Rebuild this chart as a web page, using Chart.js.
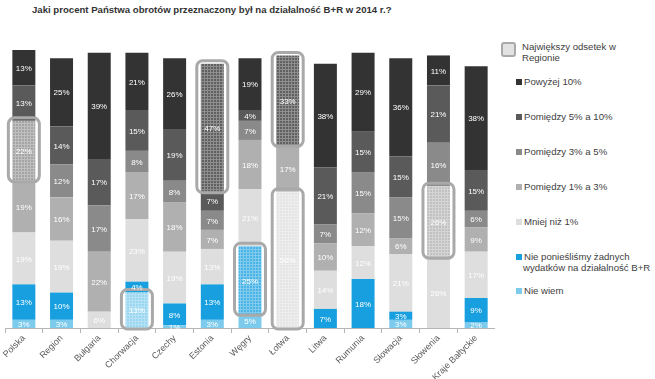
<!DOCTYPE html>
<html>
<head>
<meta charset="utf-8">
<script src="https://cdn.jsdelivr.net/npm/chart.js@4"></script>
<style>
  body { margin: 0; background: #fff; font-family: "Liberation Sans", Arial, sans-serif; }
  #wrap { position: absolute; left: 0; top: 0; width: 495px; height: 379px; }
  #title { position: absolute; left: 32px; top: 4px; font-size: 9.6px; font-weight: bold; color: #333; white-space: nowrap; }
  #legend { position: absolute; left: 500px; top: 0; width: 155px; font-size: 9.6px; color: #404040; }
  .item { position: absolute; left: 16px; line-height: 11px; white-space: nowrap; }
  .sq { display: inline-block; width: 6px; height: 6px; margin-right: 2px; vertical-align: 0px; }
  .hl { position: absolute; left: 1px; top: 42px; width: 11px; height: 11px; border: 2px solid #aaa; border-radius: 3px; background: #e2e2e2; }
</style>
</head>
<body>
<div id="title">Jaki procent Państwa obrotów przeznaczony był na działalność B+R w 2014 r.?</div>
<div id="wrap"><canvas id="chart"></canvas></div>
<div id="legend"></div>
<script>
var categories = ['Polska', 'Region', 'Bułgaria', 'Chorwacja', 'Czechy', 'Estonia', 'Węgry', 'Łotwa', 'Litwa', 'Rumunia', 'Słowacja', 'Słowenia', 'Kraje Bałtyckie'];

// od dołu do góry słupka
var nieWiem     = [3, 3, 0, 13, 1, 3, 5, 0, 0, 0, 3, 0, 2];
var niePoniesli = [13, 10, 0, 4, 8, 13, 25, 0, 7, 18, 3, 0, 9];
var mniejNiz1   = [19, 19, 6, 23, 19, 13, 21, 50, 14, 12, 21, 26, 17];
var od1do3      = [19, 16, 22, 17, 18, 7, 18, 17, 10, 12, 6, 26, 9];
var od3do5      = [22, 12, 17, 8, 8, 7, 7, 0, 7, 15, 15, 16, 6];
var od5do10     = [13, 14, 17, 15, 19, 7, 4, 0, 21, 15, 15, 21, 15];
var powyzej10   = [13, 25, 39, 21, 26, 47, 19, 33, 38, 29, 36, 11, 38];

var seriesNames = ['Nie wiem', 'Nie ponieśliśmy żadnych wydatków na działalność B+R', 'Mniej niż 1%', 'Pomiędzy 1% a 3%', 'Pomiędzy 3% a 5%', 'Pomiędzy 5% a 10%', 'Powyżej 10%'];
var seriesData = [nieWiem, niePoniesli, mniejNiz1, od1do3, od3do5, od5do10, powyzej10];
var colors = ['#7ccbec', '#179fdf', '#dedede', '#b0b0b0', '#8a8a8a', '#5a5a5a', '#333333'];

// największy odsetek w regionie: [seria, kategoria]
var highlights = [[4, 0], [0, 3], [6, 5], [1, 6], [6, 7], [2, 7], [3, 11]];

function mix(hex, t) {
  var n = parseInt(hex.slice(1), 16);
  var r = (n >> 16) & 255, g = (n >> 8) & 255, b = n & 255;
  r = Math.round(r + (255 - r) * t); g = Math.round(g + (255 - g) * t); b = Math.round(b + (255 - b) * t);
  return 'rgb(' + r + ',' + g + ',' + b + ')';
}

function makePattern(hex) {
  var c = document.createElement('canvas');
  c.width = 3; c.height = 3;
  var x = c.getContext('2d');
  x.fillStyle = mix(hex, 0.22);
  x.fillRect(0, 0, 3, 3);
  x.fillStyle = mix(hex, 0.45);
  x.fillRect(0, 0, 3, 1);
  x.fillRect(0, 0, 1, 3);
  return x.createPattern(c, 'repeat');
}

function isHighlight(ds, idx) {
  return highlights.some(function (h) { return h[0] === ds && h[1] === idx; });
}

var datasets = seriesData.map(function (data, i) {
  var pat = makePattern(colors[i]);
  return {
    label: seriesNames[i],
    data: data,
    backgroundColor: function (ctx) {
      return isHighlight(ctx.datasetIndex, ctx.dataIndex) ? pat : colors[i];
    },
    borderWidth: 0,
    barPercentage: 0.61,
    categoryPercentage: 1
  };
});

var segmentPlugin = {
  id: 'segments',
  afterDatasetsDraw: function (chart) {
    var ctx = chart.ctx;
    ctx.save();
    // ramki wokół największych odsetków
    highlights.forEach(function (h) {
      var el = chart.getDatasetMeta(h[0]).data[h[1]];
      var x = el.x - el.width / 2 - 4, w = el.width + 8;
      var top = Math.min(el.y, el.base) - 3, bottom = Math.max(el.y, el.base) + 1;
      ctx.beginPath();
      ctx.roundRect(x, top, w, bottom - top, 6);
      ctx.lineWidth = 3;
      ctx.strokeStyle = '#a9a9a9';
      ctx.stroke();
    });
    ctx.font = '8px "Liberation Sans", Arial, sans-serif';
    ctx.fillStyle = '#ffffff';
    ctx.textAlign = 'center';
    ctx.textBaseline = 'middle';
    chart.data.datasets.forEach(function (ds, i) {
      chart.getDatasetMeta(i).data.forEach(function (el, j) {
        var v = ds.data[j];
        if (!v) return;
        ctx.fillText(v + '%', el.x, (el.y + el.base) / 2 + 1);
      });
    });
    ctx.restore();
  }
};

new Chart(document.getElementById('chart'), {
  type: 'bar',
  data: { labels: categories, datasets: datasets },
  plugins: [segmentPlugin],
  options: {
    responsive: true,
    maintainAspectRatio: false,
    animation: false,
    layout: { padding: { top: 50, left: 5, right: 0, bottom: 0 } },
    plugins: { legend: { display: false }, tooltip: { enabled: false } },
    scales: {
      x: {
        stacked: true,
        grid: { display: true, drawOnChartArea: false, offset: true, tickLength: 5, color: '#b5b5b5' },
        border: { display: true, color: '#b5b5b5' },
        ticks: { color: '#5a5a5a', font: { size: 9, family: '"Liberation Sans", Arial, sans-serif' }, minRotation: 45, maxRotation: 45, padding: 0 },
        afterFit: function (scale) { scale.height = 51; }
      },
      y: { stacked: true, display: false, min: 0, max: 102 }
    }
  }
});

// legenda
var legend = document.getElementById('legend');
var hl = document.createElement('div');
hl.className = 'hl';
legend.appendChild(hl);
var hlText = document.createElement('div');
hlText.className = 'item';
hlText.style.left = '22px';
hlText.style.top = '41px';
hlText.innerHTML = 'Największy odsetek w<br>Regionie';
legend.appendChild(hlText);

var legendTops = [285, 251, 216, 181, 146, 111, 76];
var legendTexts = ['Nie wiem', 'Nie ponieśliśmy żadnych<br><span style="margin-left:7px">wydatków na działalność B+R</span>', 'Mniej niż 1%', 'Pomiędzy 1% a 3%', 'Pomiędzy 3% a 5%', 'Pomiędzy 5% a 10%', 'Powyżej 10%'];
for (var i = seriesNames.length - 1; i >= 0; i--) {
  var it = document.createElement('div');
  it.className = 'item';
  it.style.top = legendTops[i] + 'px';
  it.innerHTML = '<span class="sq" style="background:' + colors[i] + '"></span>' + legendTexts[i];
  legend.appendChild(it);
}
</script>
</body>
</html>
